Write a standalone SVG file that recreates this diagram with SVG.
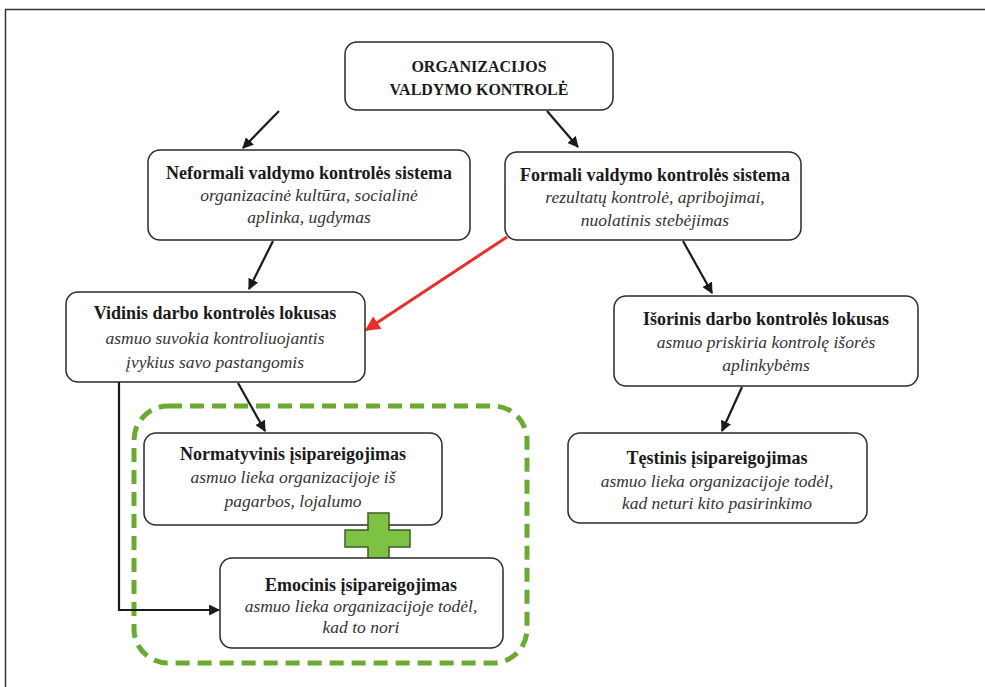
<svg xmlns="http://www.w3.org/2000/svg" width="985" height="687" viewBox="0 0 985 687">
<style>
.box{fill:#fff;stroke:#2a2a2a;stroke-width:1.5}
.t{font-family:"Liberation Serif",serif;font-weight:bold;font-size:18px;fill:#1a1a1a;text-anchor:middle}
.h{font-family:"Liberation Serif",serif;font-weight:bold;font-size:16px;fill:#1a1a1a;text-anchor:middle}
.i{font-family:"Liberation Serif",serif;font-style:italic;font-size:17.5px;fill:#333;text-anchor:middle}
.c{stroke:#1a1a1a;stroke-width:2.2;fill:none}
</style>
<defs>
<marker id="ah" viewBox="0 0 10 10" refX="9" refY="5" markerWidth="5" markerHeight="5" orient="auto" markerUnits="strokeWidth"><path d="M0,0 L10,5 L0,10 z" fill="#1a1a1a"/></marker>
<marker id="ahr" viewBox="0 0 10 10" refX="9" refY="5" markerWidth="5" markerHeight="5" orient="auto" markerUnits="strokeWidth"><path d="M0,0 L10,5 L0,10 z" fill="#e8302a"/></marker>
</defs>
<rect width="985" height="687" fill="#fff"/>
<path d="M5.5,687 V9.5 H985" fill="none" stroke="#333" stroke-width="1.5"/>

<g id="frame-group">
<rect x="134" y="406" width="393" height="257" rx="34" fill="none" stroke="#6aaa32" stroke-width="5" stroke-dasharray="14 8"/>
</g>

<g id="connectors">
<line class="c" x1="279" y1="111" x2="243" y2="148" marker-end="url(#ah)"/>
<line class="c" x1="547" y1="111" x2="578" y2="147" marker-end="url(#ah)"/>
<line class="c" x1="273" y1="241" x2="249" y2="289" marker-end="url(#ah)"/>
<line class="c" x1="683" y1="241" x2="712" y2="293" marker-end="url(#ah)"/>
<line x1="507" y1="237" x2="366" y2="330" stroke="#e8302a" stroke-width="3" marker-end="url(#ahr)"/>
<line class="c" x1="238" y1="383" x2="265" y2="431" marker-end="url(#ah)"/>
<line class="c" x1="742" y1="387" x2="722" y2="431" marker-end="url(#ah)"/>
<path class="c" d="M119,382 V610 H219" marker-end="url(#ah)"/>
</g>

<g id="n-top">
<rect class="box" x="345" y="42" width="268" height="68" rx="12"/>
<text class="h" x="479" y="72">ORGANIZACIJOS</text>
<text class="h" x="479" y="95">VALDYMO KONTROLĖ</text>
</g>

<g id="n-neformali">
<rect class="box" x="148" y="150" width="322" height="90" rx="12"/>
<text class="t" x="309" y="179">Neformali valdymo kontrolės sistema</text>
<text class="i" x="309" y="201">organizacinė kultūra, socialinė</text>
<text class="i" x="309" y="223">aplinka, ugdymas</text>
</g>

<g id="n-formali">
<rect class="box" x="505" y="152" width="296" height="88" rx="12"/>
<text class="t" x="655" y="181">Formali valdymo kontrolės sistema</text>
<text class="i" x="655" y="203">rezultatų kontrolė, apribojimai,</text>
<text class="i" x="655" y="226">nuolatinis stebėjimas</text>
</g>

<g id="n-vidinis">
<rect class="box" x="66" y="292" width="299" height="90" rx="12"/>
<text class="t" x="215" y="319">Vidinis darbo kontrolės lokusas</text>
<text class="i" x="215" y="344">asmuo suvokia kontroliuojantis</text>
<text class="i" x="215" y="368">įvykius savo pastangomis</text>
</g>

<g id="n-isorinis">
<rect class="box" x="614" y="296" width="304" height="90" rx="12"/>
<text class="t" x="766" y="325">Išorinis darbo kontrolės lokusas</text>
<text class="i" x="766" y="348">asmuo priskiria kontrolę išorės</text>
<text class="i" x="766" y="371">aplinkybėms</text>
</g>

<g id="n-normatyvinis">
<rect class="box" x="144" y="433" width="298" height="92" rx="12"/>
<text class="t" x="293" y="460">Normatyvinis įsipareigojimas</text>
<text class="i" x="293" y="483">asmuo lieka organizacijoje iš</text>
<text class="i" x="293" y="507">pagarbos, lojalumo</text>
</g>

<g id="n-plus">
<path d="M368,513 H389 V530 H410 V547 H389 V560 H368 V547 H345 V530 H368 Z" fill="#7dc242" stroke="#3d5e22" stroke-width="1.5"/>
</g>

<g id="n-emocinis">
<rect class="box" x="220" y="558" width="283" height="90" rx="12"/>
<text class="t" x="361" y="591">Emocinis įsipareigojimas</text>
<text class="i" x="361" y="612">asmuo lieka organizacijoje todėl,</text>
<text class="i" x="361" y="633">kad to nori</text>
</g>

<g id="n-testinis">
<rect class="box" x="568" y="433" width="299" height="90" rx="12"/>
<text class="t" x="717" y="464">Tęstinis įsipareigojimas</text>
<text class="i" x="717" y="487">asmuo lieka organizacijoje todėl,</text>
<text class="i" x="717" y="509">kad neturi kito pasirinkimo</text>
</g>
</svg>
